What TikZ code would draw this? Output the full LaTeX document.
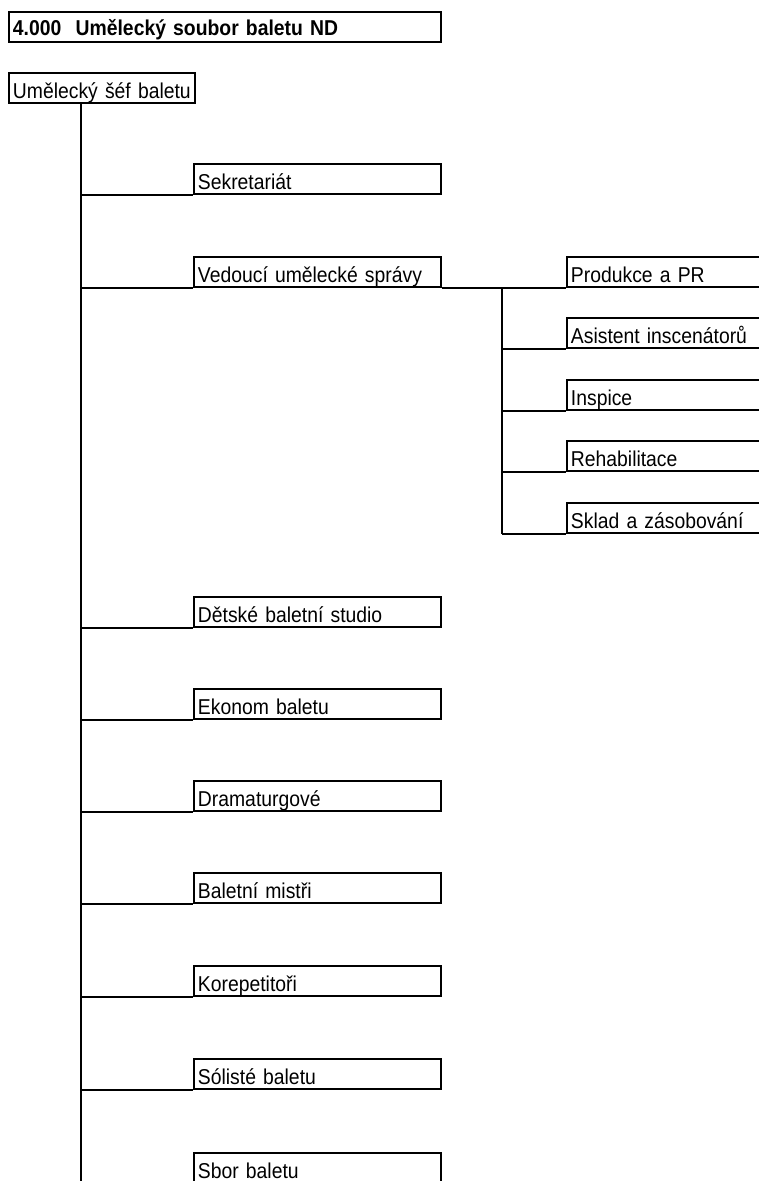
\documentclass[tikz,border=0pt]{standalone}
\usepackage{fontspec}
\setmainfont{Liberation Sans}[FakeStretch=0.9,WordSpace=0.85]
\begin{document}
\begin{tikzpicture}[x=1pt,y=-1pt,
  bx/.style={draw, line width=1.9pt, anchor=south west, inner xsep=4pt, inner ysep=3pt,
    text height=22pt, text depth=2pt, align=left, font=\fontsize{21.5}{24}\selectfont},
  mainbox/.style={bx, text width=239pt},
  subbox/.style={bx, text width=192pt},
  ln/.style={line width=1.9pt}]
\useasboundingbox (0,0) rectangle (758,1181);
% header and head
\node[bx, text width=424pt, text height=20pt, text depth=4pt, font=\fontsize{21.5}{24}\selectfont\bfseries] (title) at (8,43) {4.000\ \ Umělecký soubor baletu ND};
\node[bx, text width=178pt] (boss) at (8,104) {Umělecký šéf baletu};
% main column
\node[mainbox] (sek) at (193,195) {Sekretariát};
\node[mainbox] (ved) at (193,288) {Vedoucí umělecké správy};
\node[mainbox] (det) at (193,628) {Dětské baletní studio};
\node[mainbox] (eko) at (193,720) {Ekonom baletu};
\node[mainbox] (dra) at (193,812) {Dramaturgové};
\node[mainbox] (bal) at (193,904) {Baletní mistři};
\node[mainbox] (kor) at (193,997) {Korepetitoři};
\node[mainbox] (sol) at (193,1090) {Sólisté baletu};
\node[mainbox] (sbo) at (193,1184) {Sbor baletu};
% sub column
\node[subbox] (pro) at (566,288) {Produkce a PR};
\node[subbox] (asi) at (566,349) {Asistent inscenátorů};
\node[subbox] (ins) at (566,411) {Inspice};
\node[subbox] (reh) at (566,472) {Rehabilitace};
\node[subbox] (skl) at (566,534) {Sklad a zásobování};
% trunks
\coordinate (tk) at (81,1181);
\coordinate (st) at (502,534);
\draw[ln] (boss.south -| tk) -- (tk);
\foreach \n in {sek,ved,det,eko,dra,bal,kor,sol}
  \draw[ln] (\n.south west -| tk) -- (\n.south west);
\draw[ln] (ved.south east) -- (pro.south west);
\draw[ln] (ved.south east -| st) -- (st);
\foreach \n in {asi,ins,reh,skl}
  \draw[ln] (\n.south west -| st) -- (\n.south west);
\end{tikzpicture}
\end{document}
